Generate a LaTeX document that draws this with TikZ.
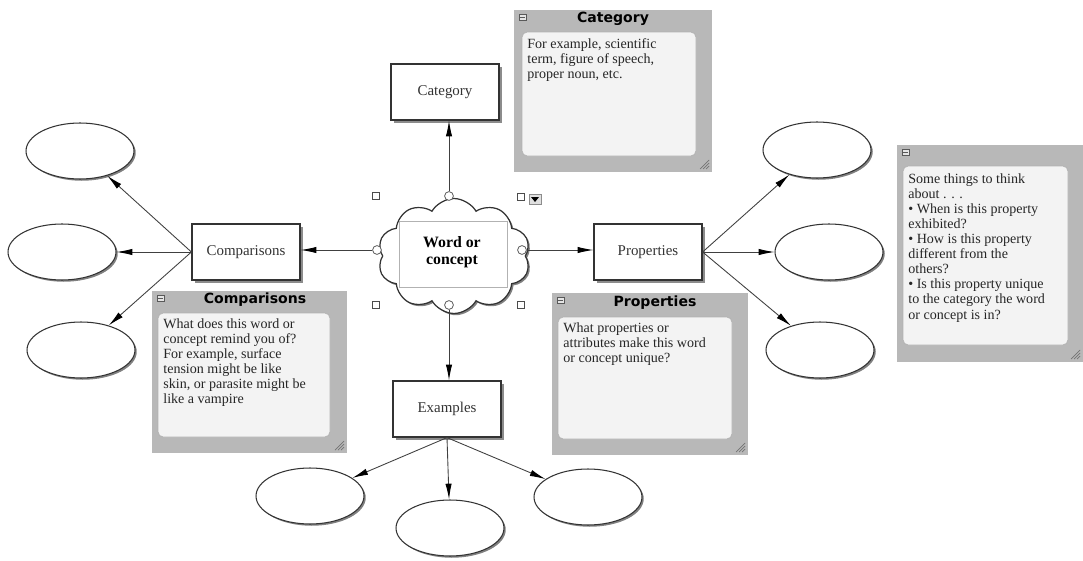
\documentclass[tikz,border=0pt]{standalone}
\usepackage{fontspec}
\setmainfont{Liberation Serif}
\newfontfamily\titlefont{DejaVu Sans}
\usepackage{tikz}
\usetikzlibrary{
    arrows.meta,
    positioning,
    shapes.geometric,
    shapes.symbols,
    shadows
}
\usepackage{xcolor}
\definecolor{notegray}{RGB}{184,184,184}
\definecolor{notepaper}{RGB}{243,243,243}

\begin{document}
\begin{tikzpicture}[x=0.02cm, y=-0.02cm,
    mapbox/.style={draw=black!80, line width=0.7pt, fill=white,
        minimum width=2.16cm, minimum height=1.12cm, inner sep=1pt,
        font=\fontsize{8.5}{10}\selectfont, text=black!80,
        drop shadow={shadow xshift=1.5pt, shadow yshift=-1.5pt, fill=black!45, opacity=1}},
    blank/.style={ellipse, draw=black!80, line width=0.6pt, fill=white,
        minimum width=2.16cm, minimum height=1.12cm, inner sep=0pt,
        drop shadow={shadow xshift=1pt, shadow yshift=-1pt, fill=black!50, opacity=1}},
    link/.style={draw=black!75, line width=0.5pt, -{Latex[length=9pt, width=3.6pt, black]}},
    handle/.style={circle, draw=black!70, fill=white, inner sep=0pt, minimum size=5pt, line width=0.4pt},
    corner/.style={rectangle, draw=black!70, fill=white, inner sep=0pt, minimum size=4pt, line width=0.4pt},
    notetitle/.style={font=\titlefont\bfseries\fontsize{8}{9}\selectfont},
    notetext/.style={anchor=north west, align=left, inner sep=0pt,
        font=\fontsize{8}{8.6}\selectfont, text=black!85}
]
\useasboundingbox (0,0) rectangle (1083,561);

% === CENTRE: word cloud ===
\node[cloud, draw=black!80, line width=0.7pt, fill=white, cloud puffs=10, cloud puff arc=120,
    aspect=1.3, minimum width=3.05cm, minimum height=2.3cm, inner sep=0pt,
    drop shadow={shadow xshift=1pt, shadow yshift=-1pt, fill=black!50, opacity=1}]
    (word) at (454,256) {};
\draw[black!30, line width=0.3pt] (399,221) rectangle (507,287);
\node[font=\bfseries\fontsize{9}{10}\selectfont, align=center] (wordlabel) at (452,252) {Word or\\concept};

% handles round the cloud
\node[handle] (hTop) at (449,196) {};
\node[handle] (hLeft) at (377,250) {};
\node[handle] (hRight) at (522,250) {};
\node[handle] (hBot) at (449,305) {};
\node[corner] (cNW) at (376,196) {};
\node[corner] (cSW) at (376,305) {};
\node[corner] (cSE) at (521,305) {};
\node[corner] (cNE) at (521,197) {};
\node[draw=black!45, fill=black!12, minimum width=0.24cm, minimum height=0.2cm, inner sep=0pt] (menu) at (535,199) {};
\fill (531,197) -- (539,197) -- (535,202) -- cycle;

% === BOXES ===
\node[mapbox] (catbox) at (445,92) {Category};
\node[mapbox] (cmpbox) at (246,252) {Comparisons};
\node[mapbox] (propbox) at (648,252) {Properties};
\node[mapbox] (exbox) at (447,409) {Examples};

\draw[link] (hTop) -- (hTop |- catbox.south);
\draw[link] (hLeft) -- (hLeft -| cmpbox.east);
\draw[link] (hRight) -- (hRight -| propbox.west);
\draw[link] (hBot) -- (hBot |- exbox.north);

% === BLANK OVALS ===
\node[blank] (cmpA) at (80,151) {};
\node[blank] (cmpB) at (62,252) {};
\node[blank] (cmpC) at (81,350) {};
\node[blank] (propA) at (817,150) {};
\node[blank] (propB) at (829,252) {};
\node[blank] (propC) at (820,350) {};
\node[blank] (exA) at (310,496) {};
\node[blank] (exB) at (450,528) {};
\node[blank] (exC) at (588,497) {};

\foreach \e in {cmpA,cmpB,cmpC} {\draw[link] (cmpbox.west) -- (\e);}
\foreach \e in {propA,propB,propC} {\draw[link] (propbox.east) -- (\e);}
\foreach \e in {exA,exB,exC} {\draw[link] (exbox.south) -- (\e);}

% === NOTES ===
% Category note
\fill[notegray] (514,10) rectangle (712,172);
\draw[black!30, fill=notepaper, rounded corners=3pt] (522,32) rectangle (696,156);
\node[notetitle] (catTitle) at (613,19) {Category};
\node[notetext] (catText) at (527,38) {For example, scientific\\term, figure of speech,\\proper noun, etc.};

% hint note (no title)
\fill[notegray] (897,145) rectangle (1083,362);
\draw[black!30, fill=notepaper, rounded corners=3pt] (903,166) rectangle (1068,345);
\node[notetext] (hintText) at (908,173) {Some things to think\\about . . .\\• When is this property\\exhibited?\\• How is this property\\different from the\\others?\\• Is this property unique\\to the category the word\\or concept is in?};

% Comparisons note
\fill[notegray] (152,291) rectangle (347,453);
\draw[black!30, fill=notepaper, rounded corners=3pt] (158,313) rectangle (330,437);
\node[notetitle] (cmpTitle) at (255,300) {Comparisons};
\node[notetext] (cmpText) at (163,318) {What does this word or\\concept remind you of?\\For example, surface\\tension might be like\\skin, or parasite might be\\like a vampire};

% Properties note
\fill[notegray] (552,293) rectangle (748,455);
\draw[black!30, fill=notepaper, rounded corners=3pt] (558,317) rectangle (732,439);
\node[notetitle] (propTitle) at (655,303) {Properties};
\node[notetext] (propText) at (563,322) {What properties or\\attributes make this word\\or concept unique?};

% note icons and grips
\foreach \x/\y in {514/10, 897/145, 152/291, 552/293} {
    \draw[black!65, fill=black!10, line width=0.4pt] (\x+5,\y+4) rectangle (\x+12,\y+10);
    \draw[black!65, line width=0.4pt] (\x+6,\y+7) -- (\x+11,\y+7);
}
\foreach \x/\y in {712/172, 1083/362, 347/453, 748/455} {
    \foreach \d in {3,6,9} {\draw[black!55, line width=0.4pt] (\x-3,\y-\d-3) -- (\x-\d-3,\y-3);}
}

\end{tikzpicture}
\end{document}
